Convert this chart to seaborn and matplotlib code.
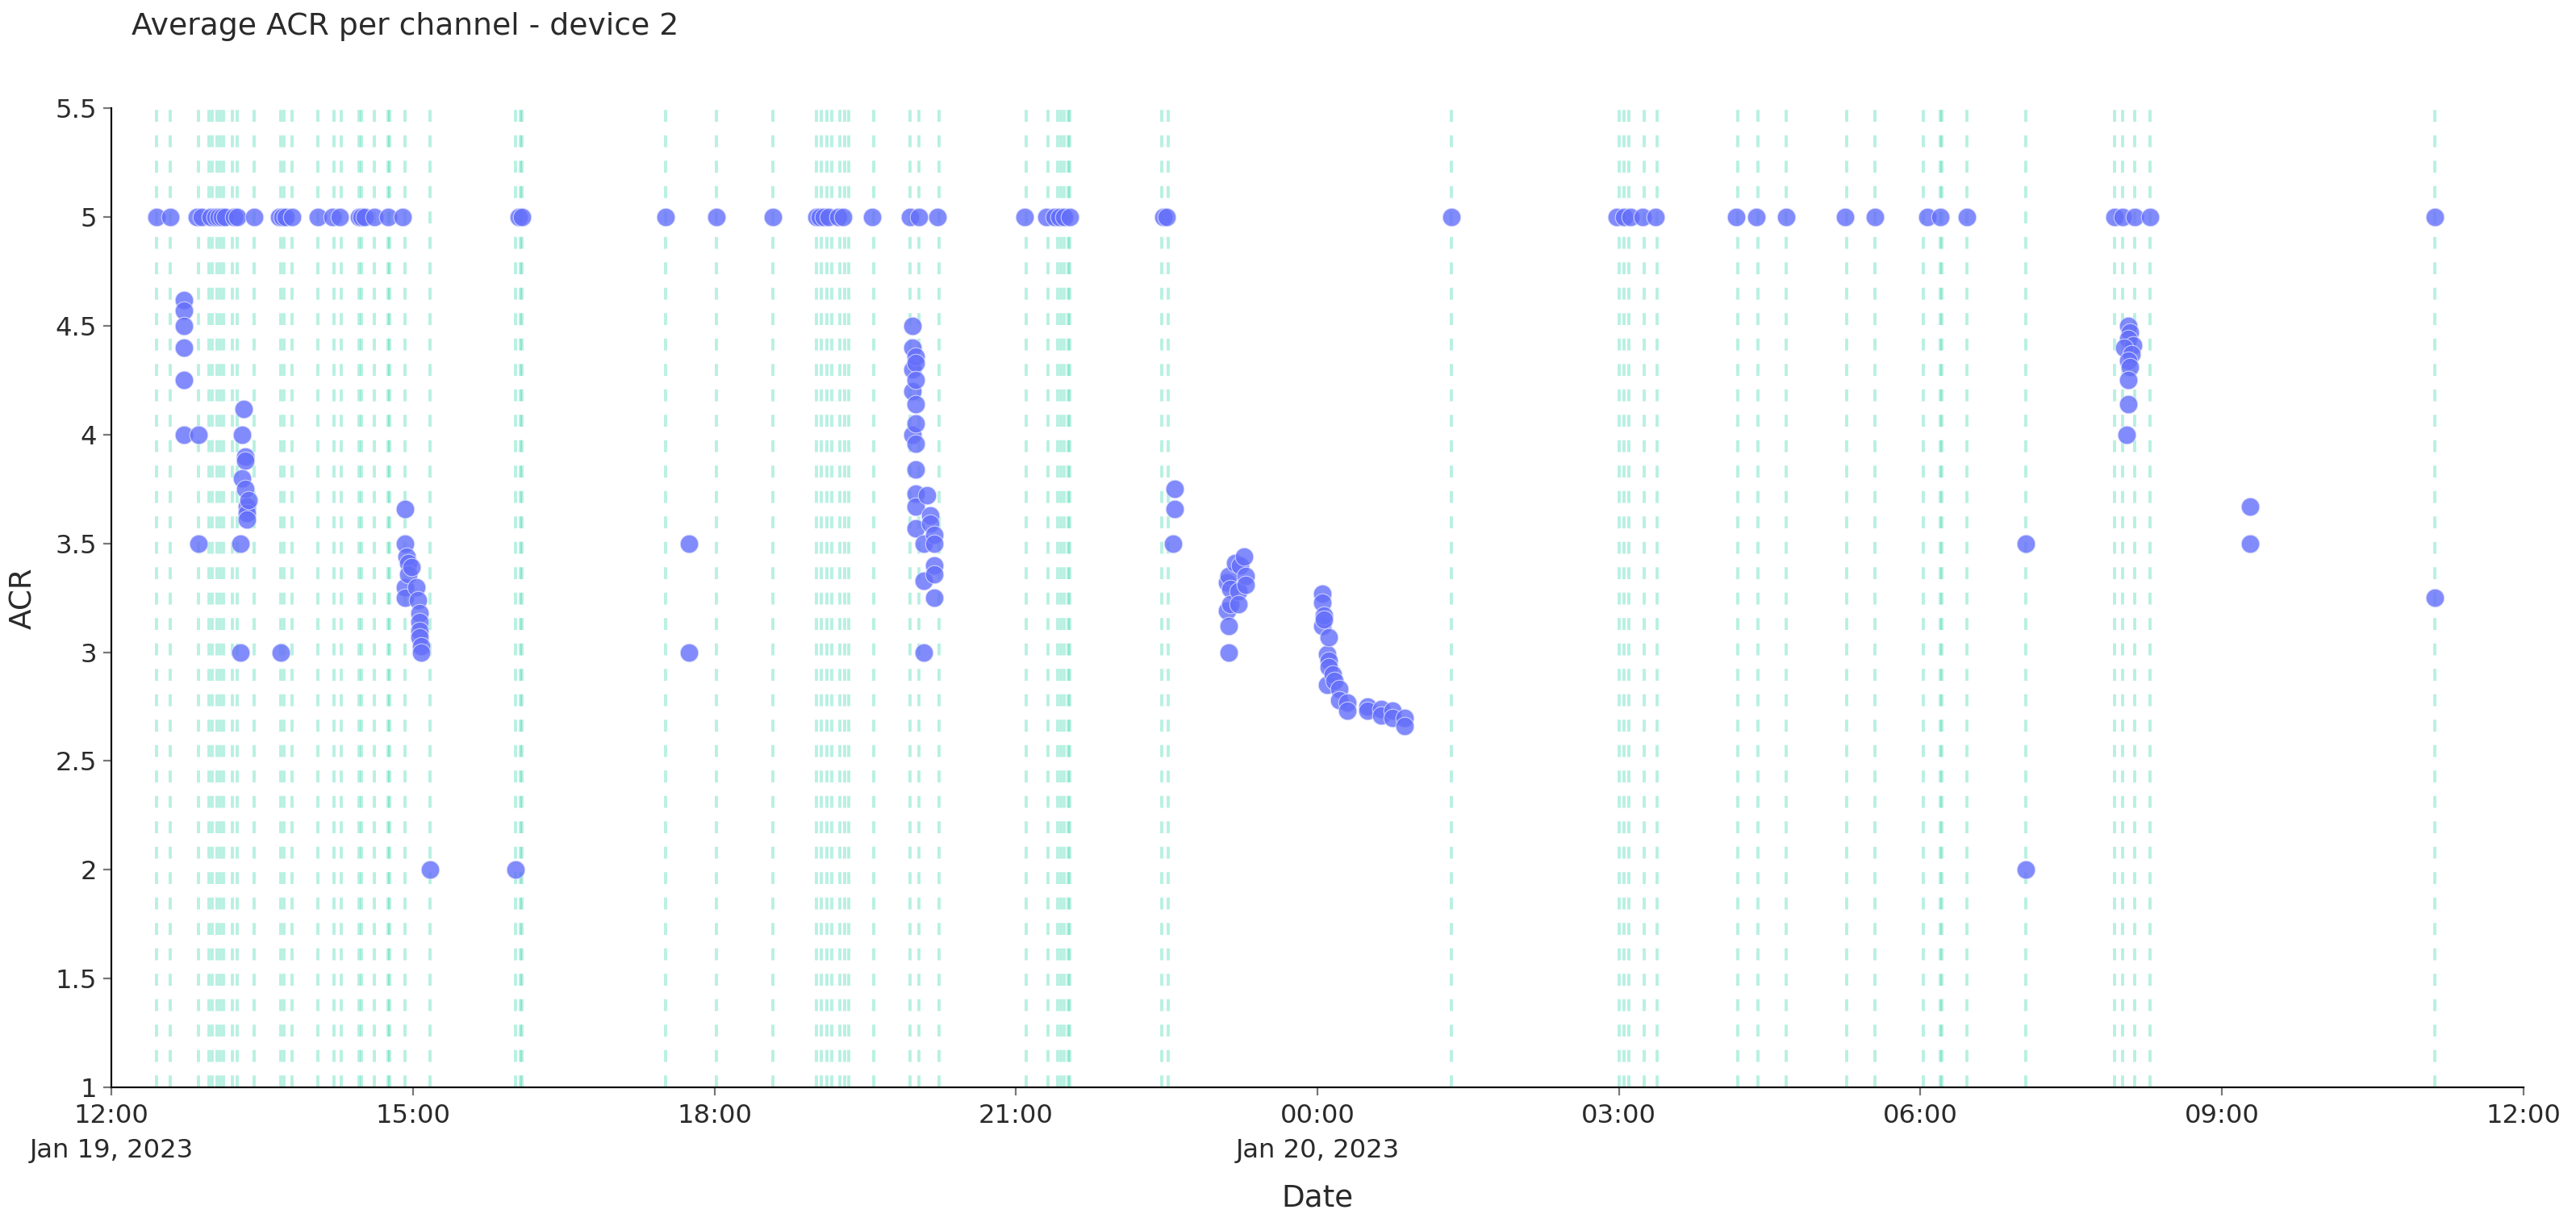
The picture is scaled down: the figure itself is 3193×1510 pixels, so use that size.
import pandas as pd
import numpy as np
import matplotlib
matplotlib.use("Agg")
import matplotlib.pyplot as plt
import seaborn as sns

# time of day of each event marker (12:00+ is Jan 19, before noon is Jan 20)
event_times = [
    "12:27", "12:35", "12:52", "12:58", "13:00", "13:03", "13:05", "13:07", "13:12", "13:15",
    "13:25", "13:41", "13:43", "13:48", "14:03", "14:13", "14:17", "14:28", "14:29", "14:37",
    "14:45", "14:46", "14:55", "15:10", "16:01", "16:04", "16:05", "17:31", "18:01", "18:35",
    "19:01", "19:04", "19:07", "19:10", "19:15", "19:18", "19:20", "19:35", "19:57", "20:02",
    "20:14", "21:06", "21:19", "21:25", "21:27", "21:29", "21:31", "21:32", "22:27", "22:31",
    "01:20", "03:00", "03:03", "03:06", "03:15", "03:23", "04:11", "04:23", "04:40", "05:16",
    "05:33", "06:02", "06:12", "06:13", "06:28", "07:03", "07:56", "08:01", "08:08", "08:17",
    "11:07",
]

point_times = [
    "12:27", "12:35",
    "12:43", "12:43", "12:43", "12:43", "12:43", "12:43",
    "12:51", "12:52", "12:52", "12:54", "12:59", "13:02", "13:04", "13:06", "13:08", "13:13", "13:15",
    "13:17", "13:17", "13:18", "13:18", "13:19", "13:20", "13:20", "13:20", "13:21", "13:21", "13:21", "13:22",
    "13:25", "13:40", "13:41", "13:42", "13:44", "13:48",
    "14:03", "14:12", "14:16", "14:28", "14:29", "14:31", "14:37", "14:45", "14:54",
    "14:55", "14:55", "14:55", "14:55", "14:56", "14:57", "14:57", "14:59",
    "15:02", "15:03", "15:04", "15:04", "15:04", "15:04", "15:05", "15:05",
    "15:10", "16:01", "16:03", "16:05",
    "17:31", "17:45", "17:45", "18:01", "18:35",
    "19:01", "19:03", "19:05", "19:08", "19:14", "19:17", "19:34", "19:57",
    "19:58", "19:58", "19:58", "19:58", "19:58",
    "20:00", "20:00", "20:00", "20:00", "20:00", "20:00", "20:00", "20:00", "20:00", "20:00",
    "20:02", "20:05", "20:05", "20:05", "20:07", "20:09", "20:09",
    "20:11", "20:11", "20:11", "20:11", "20:11", "20:13",
    "21:05", "21:18", "21:23", "21:26", "21:29", "21:32",
    "22:28", "22:30", "22:34", "22:35", "22:35",
    "23:06", "23:06", "23:07", "23:07", "23:07", "23:08", "23:08",
    "23:11", "23:13", "23:13", "23:14", "23:16", "23:17", "23:17",
    "00:03", "00:03", "00:03", "00:04", "00:04", "00:06", "00:06", "00:07", "00:07", "00:07",
    "00:09", "00:10", "00:13", "00:13", "00:18", "00:18", "00:30", "00:30", "00:38", "00:38",
    "00:45", "00:45", "00:52", "00:52",
    "01:20", "02:59", "03:03", "03:07", "03:14", "03:22", "04:10", "04:22", "04:40",
    "05:15", "05:33", "06:04", "06:12", "06:28",
    "07:03", "07:03", "07:56", "08:01",
    "08:04", "08:05", "08:04", "08:07", "08:02", "08:06", "08:04", "08:05", "08:04", "08:04", "08:03",
    "08:08", "08:17", "09:17", "09:17", "11:07", "11:07",
]

point_acr = [
    5, 5,
    4.62, 4.57, 4.5, 4.4, 4.25, 4.0,
    5, 4.0, 3.5, 5, 5, 5, 5, 5, 5, 5, 5,
    3.5, 3.0, 4.0, 3.8, 4.12, 3.9, 3.88, 3.75, 3.67, 3.64, 3.61, 3.7,
    5, 5, 3.0, 5, 5, 5,
    5, 5, 5, 5, 5, 5, 5, 5, 5,
    3.66, 3.5, 3.3, 3.25, 3.44, 3.41, 3.36, 3.39,
    3.3, 3.24, 3.18, 3.14, 3.1, 3.07, 3.03, 3.0,
    2.0, 2.0, 5, 5,
    5, 3.5, 3.0, 5, 5,
    5, 5, 5, 5, 5, 5, 5, 5,
    4.5, 4.4, 4.3, 4.2, 4.0,
    4.36, 4.33, 4.25, 4.14, 4.05, 3.96, 3.84, 3.73, 3.67, 3.57,
    5, 3.5, 3.33, 3.0, 3.72, 3.63, 3.59,
    3.54, 3.5, 3.4, 3.36, 3.25, 5,
    5, 5, 5, 5, 5, 5,
    5, 5, 3.5, 3.75, 3.66,
    3.32, 3.19, 3.35, 3.12, 3.0, 3.29, 3.22,
    3.41, 3.28, 3.22, 3.4, 3.44, 3.35, 3.31,
    3.27, 3.23, 3.12, 3.17, 3.15, 2.99, 2.85, 3.07, 2.96, 2.93,
    2.9, 2.87, 2.83, 2.78, 2.77, 2.73, 2.75, 2.73, 2.74, 2.71,
    2.73, 2.7, 2.7, 2.66,
    5, 5, 5, 5, 5, 5, 5, 5, 5,
    5, 5, 5, 5, 5,
    3.5, 2.0, 5, 5,
    4.5, 4.47, 4.44, 4.41, 4.4, 4.37, 4.34, 4.31, 4.25, 4.14, 4.0,
    5, 5, 3.67, 3.5, 5, 3.25,
]

x_tick_labels = ["12:00\nJan 19, 2023", "15:00", "18:00", "21:00",
                 "00:00\nJan 20, 2023", "03:00", "06:00", "09:00", "12:00"]
y_ticks = [1, 1.5, 2, 2.5, 3, 3.5, 4, 4.5, 5, 5.5]


def to_stamp(hhmm):
    day = "2023-01-19" if int(hhmm[:2]) >= 12 else "2023-01-20"
    return pd.Timestamp(f"{day} {hhmm}")


assert len(point_times) == len(point_acr)
df = pd.DataFrame({"date": [to_stamp(t) for t in point_times], "acr": point_acr})

sns.set_theme(style="ticks")
plt.rcParams["font.family"] = ["DejaVu Sans"]
text_color = "#2a2a2a"

fig = plt.figure(figsize=(3193 / 200, 1510 / 200), dpi=200)
ax = fig.add_axes([0.0433, 0.1073, 0.9362, 0.8037])

for t in event_times:
    ax.axvline(to_stamp(t), color="#00cc96", alpha=0.28, lw=1.4,
               ls=(0, (3.8, 4.3)), zorder=1)

sns.scatterplot(data=df, x="date", y="acr", color="#636efa", alpha=0.8, s=66,
                edgecolor="#dfe2ff", linewidth=0.4, ax=ax, zorder=3)

start = pd.Timestamp("2023-01-19 12:00")
end = pd.Timestamp("2023-01-20 12:00")
ax.set_xlim(start, end)
ax.set_ylim(1, 5.5)
ax.set_xticks(pd.date_range(start, end, freq="3h"))
ax.set_xticklabels(x_tick_labels)
ax.set_yticks(y_ticks)
ax.set_yticklabels([f"{v:g}" for v in y_ticks])
for lbl in ax.get_xticklabels():
    lbl.set_linespacing(1.5)

sns.despine(ax=ax)
for side in ["left", "bottom"]:
    ax.spines[side].set_color("#111111")
    ax.spines[side].set_linewidth(0.8)
ax.tick_params(axis="both", direction="out", length=3.6, width=0.8,
               colors="#777777", labelcolor=text_color, labelsize=11.6)
ax.tick_params(axis="x", pad=3.5)
ax.tick_params(axis="y", pad=3)

ax.set_xlabel("Date", fontsize=13.4, color=text_color)
ax.set_ylabel("ACR", fontsize=13.4, color=text_color)
ax.xaxis.set_label_coords(0.5, -0.113)
ax.xaxis.label.set_va("center")
ax.yaxis.set_label_coords(-0.0367, 0.5)
ax.yaxis.label.set_va("center")

fig.text(0.051, 0.978, "Average ACR per channel - device 2", ha="left", va="center",
         fontsize=13.6, color=text_color)

fig.savefig("out.png", dpi=200, facecolor="white")
